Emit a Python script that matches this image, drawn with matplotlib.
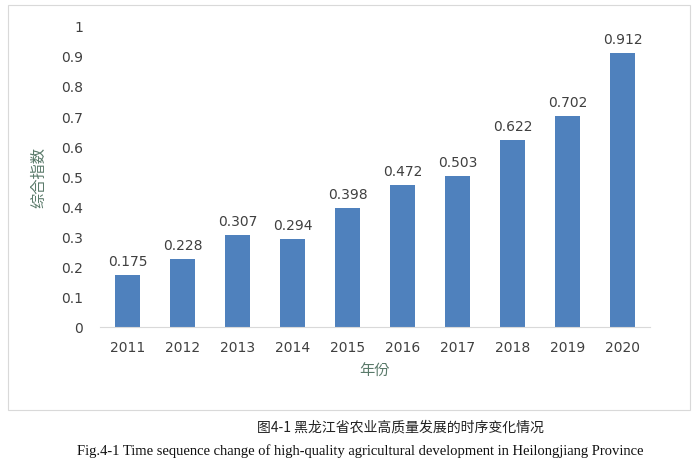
import matplotlib
matplotlib.use("Agg")
import matplotlib.pyplot as plt
from matplotlib.patches import Rectangle
from matplotlib import font_manager as fm

years = ["2011","2012","2013","2014","2015","2016","2017","2018","2019","2020"]
values = [0.175,0.228,0.307,0.294,0.398,0.472,0.503,0.622,0.702,0.912]
yticks = [0,0.1,0.2,0.3,0.4,0.5,0.6,0.7,0.8,0.9,1]

cjk = None
for f in fm.fontManager.ttflist:
    if "CJK" in f.name and ("SC" in f.name or cjk is None):
        cjk = f.name
cjkfp = fm.FontProperties(family=cjk or "Noto Sans CJK SC")

W,H = 700,465
fig = plt.figure(figsize=(W/100,H/100), dpi=100)
fig.patches.append(Rectangle((8/W,1-410/H),(690-8)/W,(410-5)/H,transform=fig.transFigure,
                             fill=False,edgecolor="#d9d9d9",lw=0.8))
ax = fig.add_axes([100/W, 1-327/H, (650-100)/W, 300/H])
ax.bar(range(len(years)), values, width=0.45, color="#4f81bd")
for i,v in enumerate(values):
    ax.text(i, v+0.02, f"{v:g}", ha="center", va="bottom", fontsize=10, color="#404040")
ax.set_ylim(0,1)
ax.set_xlim(-0.5,len(years)-0.5)
ax.set_yticks(yticks)
ax.set_yticklabels([f"{t:g}" for t in yticks])
ax.set_xticks(range(len(years)))
ax.set_xticklabels(years)
ax.tick_params(length=0, labelsize=10, labelcolor="#404040")
ax.tick_params(axis="x", pad=10)
ax.tick_params(axis="y", pad=12)
for s in ["top","right","left"]:
    ax.spines[s].set_visible(False)
ax.spines["bottom"].set_color("#d9d9d9")
ax.set_ylabel("综合指数", fontproperties=cjkfp, fontsize=11, color="#5a7a6a", labelpad=10)
ax.set_xlabel("年份", fontproperties=cjkfp, fontsize=11, color="#5a7a6a", labelpad=6)
fig.text(400/W, 1-428/H, "图4-1 黑龙江省农业高质量发展的时序变化情况", fontproperties=cjkfp,
         fontsize=10, ha="center", va="center", color="#222222")
fig.text(360/W, 1-451/H, "Fig.4-1 Time sequence change of high-quality agricultural development in Heilongjiang Province",
         fontfamily="Liberation Serif", fontsize=10.5, ha="center", va="center", color="#111111")
fig.savefig("out.png", dpi=100)
